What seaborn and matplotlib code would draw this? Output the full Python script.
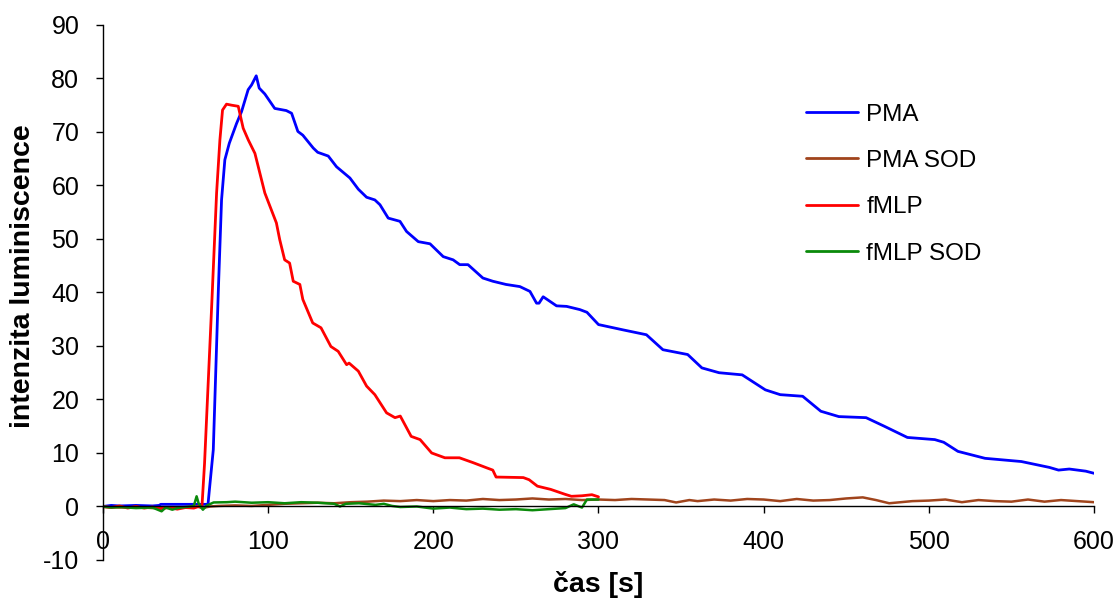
import numpy as np
import pandas as pd
import seaborn as sns
import matplotlib
matplotlib.use('Agg')
import matplotlib.pyplot as plt

### DATA (time in s, luminescence)
pma_t = [0, 5, 10, 20, 30, 34, 35, 45, 55, 63.6, 64.4, 66.8, 69.8, 71.8, 73.8, 76.5,
         80.9, 83.9, 87.9, 90, 92.8, 94.6, 98, 104, 111, 114.2, 118, 121, 127.3, 130,
         136.4, 141.4, 149.5, 154.6, 159.6, 164.6, 167.7, 172.7, 179.8, 183.8, 190.9,
         198, 206, 212, 216, 221, 230, 236, 244, 252.4, 258.5, 262.5, 264, 266.5, 274.6,
         280.7, 288.7, 293, 300, 315, 329, 339, 354, 362.6, 373, 387, 401, 410, 423.6,
         434.6, 445.5, 462, 473, 487, 503.6, 509, 517.6, 534, 556, 573, 578.5, 585, 595, 600]
pma_v = [0, 0.2, 0.1, 0.2, 0.1, 0.2, 0.4, 0.4, 0.4, 0.4, 3, 10.6, 39.9, 57.3, 64.8, 67.9,
         71.6, 73.8, 77.9, 78.8, 80.5, 78.2, 77.1, 74.4, 74, 73.5, 70.1, 69.4, 67, 66.2,
         65.5, 63.5, 61.4, 59.3, 57.8, 57.3, 56.4, 53.9, 53.3, 51.4, 49.5,
         49.1, 46.7, 46.1, 45.2, 45.2, 42.7, 42.1, 41.5, 41.1, 40.2, 38.0, 38.0, 39.2, 37.5,
         37.4, 36.8, 36.3, 34.0, 33.0, 32.1, 29.3, 28.4, 25.9, 25.0, 24.6, 21.8, 20.9, 20.6,
         17.8, 16.8, 16.6, 15.0, 12.9, 12.5, 12.0, 10.3, 9.0, 8.4, 7.3, 6.8, 7.0, 6.6, 6.2]

pma_sod_t = [0, 10, 20, 30, 40, 50, 57, 60, 65, 70, 80, 90, 100, 110, 120, 130, 140, 150,
             160, 170, 180, 190, 200, 210, 220, 230, 240, 250, 260, 270, 280, 290, 300,
             310, 320, 330, 340, 347, 355, 360, 370, 380, 390, 400, 410, 420, 430, 440,
             450, 460, 468, 476, 490, 500, 510, 520, 530, 540, 550, 560, 570, 580, 590, 600]
pma_sod_v = [-0.1, -0.2, -0.1, -0.3, -0.2, -0.2, 0.0, -0.3, 0.0, 0.1, 0.2, 0.1, 0.3, 0.5,
             0.6, 0.7, 0.6, 0.8, 0.9, 1.1, 1.0, 1.2, 1.0, 1.2, 1.1, 1.4, 1.2, 1.3, 1.5,
             1.3, 1.4, 1.2, 1.3, 1.2, 1.4, 1.3, 1.2, 0.75, 1.2, 1.0, 1.3, 1.1, 1.4, 1.3,
             1.0, 1.4, 1.1, 1.2, 1.5, 1.7, 1.2, 0.6, 1.0, 1.1, 1.3, 0.8, 1.2, 1.0, 0.9,
             1.3, 0.9, 1.2, 1.0, 0.8]

fmlp_t = [0, 5, 10, 15, 20, 25, 30, 35, 40, 45, 50, 55, 58, 60, 61.5, 66, 68.8, 70.8, 72.4,
          74.8, 78, 81.9, 84.9, 88, 92, 98, 105, 107, 110, 113, 115.2, 119.2, 121, 127,
          132, 138, 142.4, 147.5, 149, 154.6, 159.6, 164.6, 171.7, 176.8, 180, 186.6, 192,
          199, 207, 215.8, 224, 232.5, 236, 238, 254.5, 258, 263, 271, 279.5, 283.6, 290,
          296, 300]
fmlp_v = [0, -0.2, 0.1, -0.3, 0, -0.3, -0.1, -0.4, -0.2, -0.5, -0.2, -0.3, 0, 0.3, 8,
          38.7, 58.6, 68.5, 74.1, 75.2, 75, 74.8, 70.7, 68.5, 66, 58.6, 53, 49.9, 46.1,
          45.5, 42.1, 41.5, 38.7, 34.3, 33.4, 29.9, 29.0, 26.5, 26.8, 25.3, 22.5, 20.9,
          17.5, 16.6, 16.9, 13.1, 12.5, 10, 9.1, 9.1, 8.2, 7.2, 6.8, 5.5, 5.4, 5.0, 3.8,
          3.2, 2.3, 1.9, 2.0, 2.2, 1.8]

fmlp_sod_t = [0, 5, 10, 20, 30, 35.5, 38, 42, 45, 50, 55, 56.7, 58, 60.5, 63, 67, 75, 80,
              90, 100, 110, 120, 130, 140, 143.5, 147, 155, 165, 170, 175, 180, 190, 200,
              210, 220, 230, 240, 250, 260, 270, 280, 285, 290, 293, 300]
fmlp_sod_v = [0, -0.2, -0.1, -0.3, -0.2, -0.9, -0.2, -0.6, -0.3, -0.1, 0.1, 1.9, 0.5,
              -0.6, 0.2, 0.75, 0.8, 0.9, 0.7, 0.8, 0.6, 0.8, 0.7, 0.5, 0.0, 0.5, 0.6, 0.3,
              0.5, 0.1, -0.1, 0.0, -0.4, -0.2, -0.5, -0.4, -0.6, -0.5, -0.7, -0.5, -0.3,
              0.4, -0.2, 1.3, 1.3]

series = [('PMA', pma_t, pma_v, '#0000FF', 2.0),
          ('PMA SOD', pma_sod_t, pma_sod_v, '#A0441C', 1.8),
          ('fMLP', fmlp_t, fmlp_v, '#FF0000', 2.0),
          ('fMLP SOD', fmlp_sod_t, fmlp_sod_v, '#0A8A0A', 1.8)]

sns.set_theme(style='white')
plt.rcParams['font.family'] = ['Liberation Sans', 'DejaVu Sans']
plt.rcParams['axes.unicode_minus'] = False
plt.rcParams['text.color'] = 'black'

fig = plt.figure(figsize=(11.19, 6.09), dpi=100)
ax = fig.add_axes([0.092, 0.0805, 0.8857, 0.8785])

for name, t, v, col, lw in series:
    df = pd.DataFrame({'t': t, 'v': v})
    sns.lineplot(data=df, x='t', y='v', ax=ax, color=col, lw=lw, label=name,
                 estimator=None, sort=False)

ax.set_xlim(0, 600)
ax.set_ylim(-10, 90)
ax.set_xticks(np.arange(0, 601, 100))
ax.set_yticks(np.arange(-10, 91, 10))

for s in ['top', 'right']:
    ax.spines[s].set_visible(False)
ax.spines['bottom'].set_position(('data', 0))
for s in ['left', 'bottom']:
    ax.spines[s].set_color('black')
    ax.spines[s].set_linewidth(1.0)

ax.tick_params(axis='both', which='both', direction='out', length=5, width=1.0,
               color='black', pad=12, labelsize=18, labelcolor='black',
               left=True, bottom=True)

ax.set_xlabel('čas [s]', fontsize=20.5, fontweight='bold', color='black')
ax.set_ylabel('intenzita luminiscence', fontsize=20.5, fontweight='bold', color='black')
ax.xaxis.set_label_coords(0.5, -0.045)
ax.xaxis.label.set_va('center')
ax.yaxis.set_label_coords(-0.081, 0.53)
ax.yaxis.label.set_va('center')

leg = ax.legend(loc='upper left', bbox_to_anchor=(0.7094, 0.853), frameon=False,
                fontsize=17.5, handlelength=2.15, handletextpad=0.33, labelspacing=1.0,
                borderpad=0, borderaxespad=0)
for txt in leg.get_texts():
    txt.set_color('black')
for h in leg.get_lines():
    h.set_linewidth(2.0)

plt.savefig('out.png', dpi=100)
